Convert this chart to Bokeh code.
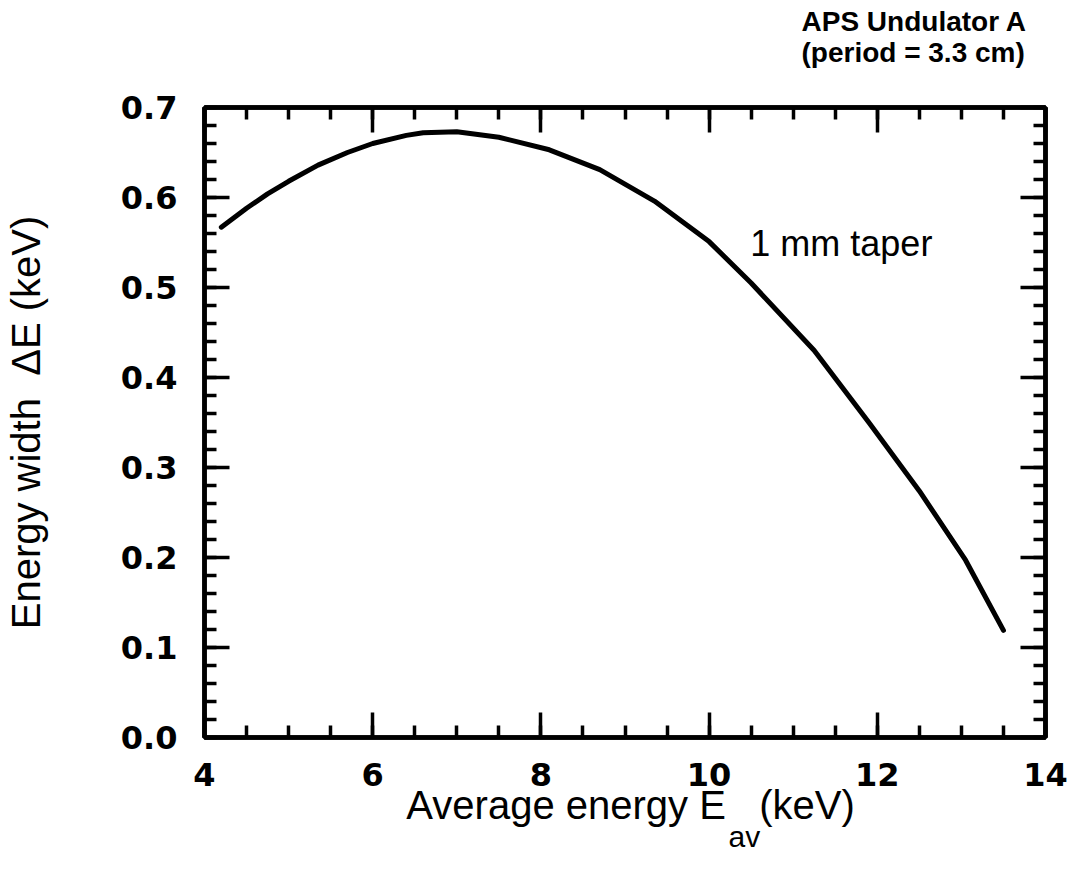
from bokeh.plotting import figure
from bokeh.models import (LinearAxis, FixedTicker, PrintfTickFormatter,
                          CustomJSTickFormatter, Label, Range1d, Title)
from bokeh.embed import file_html
from bokeh.resources import INLINE

# ---- data ----
energy_kev = [4.2, 4.5, 4.75, 5.0, 5.35, 5.7, 6.0, 6.4, 6.6, 7.0, 7.5, 8.1,
              8.7, 9.35, 10.0, 10.5, 11.25, 11.9, 12.5, 13.05, 13.5]
width_kev = [0.567, 0.588, 0.604, 0.618, 0.636, 0.650, 0.660, 0.669, 0.672,
             0.673, 0.667, 0.653, 0.631, 0.596, 0.551, 0.505, 0.430, 0.350,
             0.274, 0.197, 0.119]

x_limits = (4, 14)
y_limits = (0, 0.7)
x_major_ticks = [4, 6, 8, 10, 12, 14]
y_major_ticks = [0.0, 0.1, 0.2, 0.3, 0.4, 0.5, 0.6, 0.7]
x_minor_ticks = [4 + 0.5 * i for i in range(21)]
y_minor_ticks = [round(0.02 * i, 2) for i in range(36)]

title_lines = ["APS Undulator A", "(period = 3.3 cm)"]
curve_label = "1 mm taper"
y_title = "Energy width\u00a0 \u0394E (keV)"
x_title_main = "Average energy E"
x_title_sub = "av"
x_title_unit = "(keV)"

TICK_FONT = "DejaVu Sans"
LABEL_FONT = "Liberation Sans"
TITLE_FONT = "Liberation Sans"

p = figure(width=1077, height=869,
           x_range=Range1d(*x_limits), y_range=Range1d(*y_limits),
           output_backend="svg", toolbar_location=None,
           min_border_left=203, min_border_right=32,
           min_border_top=107, min_border_bottom=132)
p.xgrid.visible = False
p.ygrid.visible = False
p.outline_line_color = "black"
p.outline_line_width = 4.5
p.background_fill_color = "white"
p.border_fill_color = "white"


def style_axis(ax, major, minor, show_labels):
    ax.ticker = FixedTicker(ticks=major, minor_ticks=minor)
    ax.axis_line_color = "black"
    ax.axis_line_width = 4.5
    ax.major_tick_in = 25
    ax.major_tick_out = 0
    ax.minor_tick_in = 12
    ax.minor_tick_out = 0
    ax.major_tick_line_width = 3.5
    ax.minor_tick_line_width = 3.5
    ax.major_tick_line_color = "black"
    ax.minor_tick_line_color = "black"
    ax.major_label_text_font = TICK_FONT
    ax.major_label_text_font_style = "bold"
    ax.major_label_text_font_size = "32px"
    ax.major_label_text_color = "black"
    if not show_labels:
        ax.formatter = CustomJSTickFormatter(code="return ''")
        ax.major_label_text_font_size = "1px"
        ax.major_label_standoff = 0


xb = p.xaxis[0]
yl = p.yaxis[0]
style_axis(xb, x_major_ticks, x_minor_ticks, True)
style_axis(yl, y_major_ticks, y_minor_ticks, True)
xb.major_label_standoff = 25
yl.major_label_standoff = 27
yl.formatter = PrintfTickFormatter(format="%.1f")

yl.axis_label = y_title
yl.axis_label_text_font = LABEL_FONT
yl.axis_label_text_font_style = "normal"
yl.axis_label_text_font_size = "40px"
yl.axis_label_text_color = "black"
yl.axis_label_standoff = 70

# x axis title: main text + unit on the axis, subscript as a pulled-up title
GAP = "\u00a0" * 3
xb.axis_label = "\u00a0" + x_title_main + GAP + x_title_unit
xb.axis_label_text_font = LABEL_FONT
xb.axis_label_text_font_style = "normal"
xb.axis_label_text_font_size = "40px"
xb.axis_label_text_color = "black"
xb.axis_label_standoff = -6

# mirrored ticks on top and right (no labels); the top one also leaves
# the gap between the frame and the title block
xt = LinearAxis()
style_axis(xt, x_major_ticks, x_minor_ticks, False)
xt.axis_label = "\u00a0"
xt.axis_label_text_font_size = "10px"
xt.axis_label_standoff = 27
p.add_layout(xt, "above")
yr = LinearAxis()
style_axis(yr, y_major_ticks, y_minor_ticks, False)
p.add_layout(yr, "right")

p.add_layout(Title(text=x_title_sub, align="left", offset=524, standoff=-19,
                   vertical_align="top", text_font=LABEL_FONT,
                   text_font_style="normal", text_font_size="30px",
                   text_color="black"), "below")

# title block in the upper right (stacked outward from the frame)
p.add_layout(Title(text=title_lines[1], align="left", offset=597, standoff=-3,
                   text_font=TITLE_FONT, text_font_style="bold",
                   text_font_size="28px", text_color="black"), "above")
p.add_layout(Title(text=title_lines[0], align="left", offset=597, standoff=0,
                   text_font=TITLE_FONT, text_font_style="bold",
                   text_font_size="28px", text_color="black"), "above")

p.line(energy_kev, width_kev, line_color="black", line_width=5,
       line_cap="round", line_join="round")

p.add_layout(Label(x=10.49, y=0.549, text=curve_label, text_font=LABEL_FONT,
                   text_font_size="36px", text_baseline="middle",
                   text_align="left", text_color="black"))

open("out.html", "w").write(file_html(p, INLINE))
